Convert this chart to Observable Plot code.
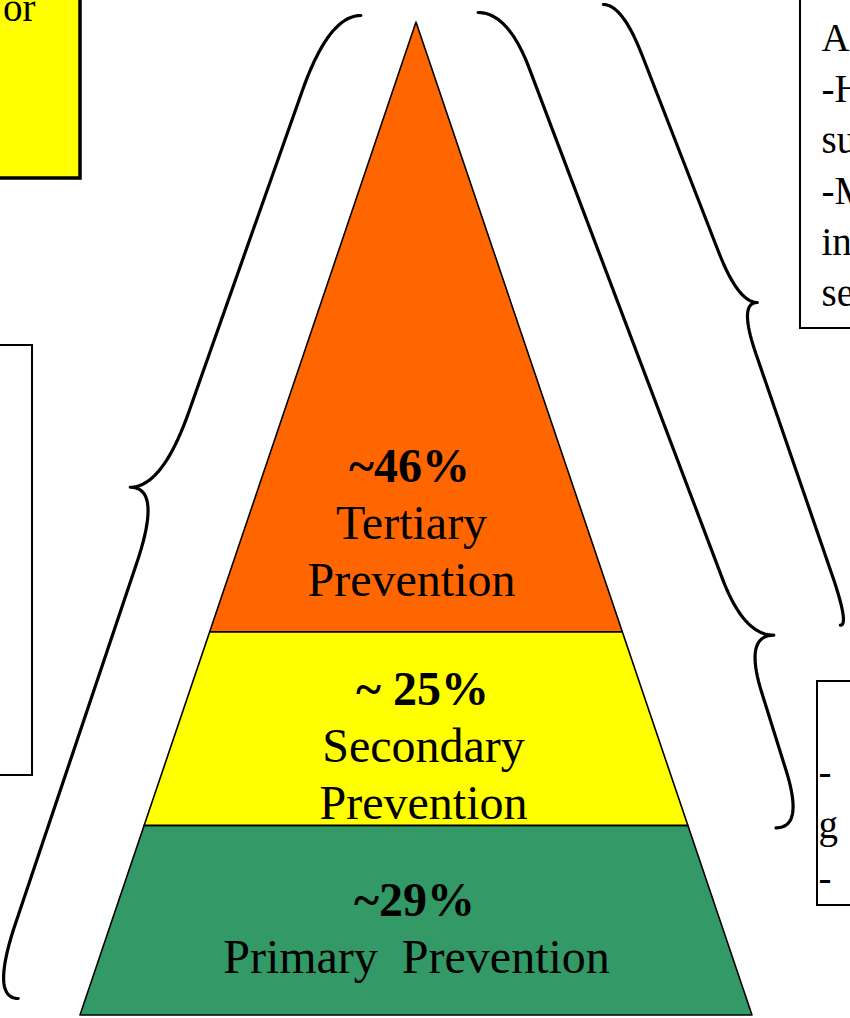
<!DOCTYPE html>
<html>
<head>
<meta charset="utf-8">
<script src="https://cdn.jsdelivr.net/npm/d3@7"></script>
<script src="https://cdn.jsdelivr.net/npm/@observablehq/plot@0.6"></script>
<style>
html, body { margin: 0; padding: 0; background: #fff; overflow: hidden; }
#chart svg { display: block; }
</style>
</head>
<body>
<div id="chart"></div>
<script>
// ---------------- data ----------------
const layerNames = ["Primary Prevention", "Secondary Prevention", "Tertiary Prevention"];
const shareValues = [29, 25, 46];
const shareLabels = ["~29%", "~ 25%", "~46%"];
const nameLabels = ["Primary  Prevention", "Secondary\nPrevention", "Tertiary\nPrevention"];
const layerTopLevels = [0.191, 0.386, 1.0];   // fraction of pyramid height at the top of each layer
const layerColors = ["#339966", "#FFFF00", "#FF6600"];
const topLeftBoxLines = ["or"];
const topRightBoxLines = ["A", "-H", "su", "-M", "in", "se"];
const bottomRightBoxLines = ["-", "g", "-"];

// ---------------- layout ----------------
const W = 850, H = 1018;
const CX = 416, BASE_Y = 1015, HALF_W = 336, TALL = 993;
const u = px => (px - CX) / HALF_W;        // pixel x -> data x
const v = py => (BASE_Y - py) / TALL;      // pixel y -> data level
const pxY = lv => BASE_Y - lv * TALL;
const FONT = "'Liberation Serif', 'Times New Roman', serif";

const layerBottomLevels = [0, ...layerTopLevels.slice(0, -1)];
const layers = layerNames.map((name, i) => ({
  name, share: shareValues[i], shareLabel: shareLabels[i], label: nameLabels[i],
  bottom: layerBottomLevels[i], top: layerTopLevels[i]
}));
const areaData = layers.flatMap(d =>
  [d.bottom, d.top].map(lv => ({name: d.name, lv, x1: -(1 - lv), x2: 1 - lv})));

// labels
const LINE = 57, LABEL_SIZE = 48;
const nameGap = [43, 7, 36];
const nameDx = [0, 7, -5];
const pctDx = [-2, 6, -7];
const labelData = layers.map((d, i) => {
  const base = pxY(d.bottom) - nameGap[i];
  const n = d.label.split("\n").length;
  return {...d, nameY: v(base), pctY: v(base - n * LINE), nx: nameDx[i] / HALF_W, px: pctDx[i] / HALF_W};
});

// braces (anchored to pyramid levels, offset outward from the pyramid edge)
function edgePx(side, py) { return CX + side * (1 - v(py)) * HALF_W; }
function anchor(side, lv, nudge, out) {
  const py = pxY(lv) + nudge;
  return [edgePx(side, py) + side * out, py];
}
function quad(a, c, b, n = 20) {
  const pts = [];
  for (let k = 0; k <= n; k++) {
    const t = k / n, s = 1 - t;
    pts.push([s * s * a[0] + 2 * s * t * c[0] + t * t * b[0], s * s * a[1] + 2 * s * t * c[1] + t * t * b[1]]);
  }
  return pts;
}
function along(a, b, d) {
  const dx = b[0] - a[0], dy = b[1] - a[1], L = Math.hypot(dx, dy);
  return [a[0] + dx / L * d, a[1] + dy / L * d];
}
function bracePts(P0, T, P1, side, r, rb, c) {
  const S0 = [P0[0] + side * r, P0[1]], S1 = [T[0] - side * r, T[1]];
  const S2 = [T[0] - side * r, T[1]], S3 = [P1[0] + side * rb, P1[1]];
  const A = along(S0, S1, c), B = along(S1, S0, c), C = along(S2, S3, c), D = along(S3, S2, c);
  return [...quad(P0, S0, A), ...quad(B, S1, T), ...quad(T, S2, C), ...quad(D, S3, P1)];
}
const braceSpecs = [
  {id: "all", side: -1, top: [layerTopLevels[2], -7, 58], tip: [0.532, 0, 129], bottom: [0, -17, 68], r: 32, rb: 28, c: 80},
  {id: "sec+ter", side: 1, top: [layerTopLevels[2], -10, 65], tip: [layerTopLevels[1], 3, 150], bottom: [layerTopLevels[0], 2, 87], r: 30, rb: 28, c: 60},
  {id: "ter", side: 1, top: [layerTopLevels[2], -18, 193], tip: [0.718, 0, 246], bottom: [layerTopLevels[1], -7, 220], r: 19, rb: 9, c: 55}
];
const braceData = braceSpecs.flatMap(b => {
  const P0 = anchor(b.side, ...b.top), T = anchor(b.side, ...b.tip), P1 = anchor(b.side, ...b.bottom);
  return bracePts(P0, T, P1, b.side, b.r, b.rb, b.c).map(([x, y]) => ({id: b.id, x: u(x), y: v(y)}));
});

// side boxes (cropped at the picture edge)
const box = (x1, x2, y1, y2) => ({x1: u(x1), x2: u(x2), y1: v(y1), y2: v(y2)});
const yellowBoxes = [box(-10, 80, -10, 178)];
const whiteBoxes = [box(-10, 32, 345, 775), box(800, 870, -10, 328), box(817, 870, 681, 905)];
const boxText = [
  ...topLeftBoxLines.map((t, i) => ({t, x: u(35), y: v(20 + i * 51), a: "end"})),
  ...topRightBoxLines.map((t, i) => ({t, x: u(821), y: v(50 + i * 51), a: "start"})),
  ...bottomRightBoxLines.map((t, i) => ({t, x: u(818), y: v(784 + i * 53), a: "start"}))
];

const chart = Plot.plot({
  width: W, height: H, margin: 0,
  x: {domain: [u(0), u(W)], axis: null},
  y: {domain: [v(H), v(0)], axis: null},
  color: {domain: layerNames, range: layerColors},
  style: {background: "white", fontFamily: FONT, overflow: "hidden"},
  marks: [
    Plot.rect(yellowBoxes, {x1: "x1", x2: "x2", y1: "y1", y2: "y2", fill: "#FFFF00", stroke: "black", strokeWidth: 3.5}),
    Plot.rect(whiteBoxes, {x1: "x1", x2: "x2", y1: "y1", y2: "y2", fill: "white", stroke: "black", strokeWidth: 2}),
    Plot.areaX(areaData, {y: "lv", x1: "x1", x2: "x2", z: "name", fill: "name", stroke: "black", strokeWidth: 1.6}),
    Plot.line(braceData, {x: "x", y: "y", z: "id", stroke: "black", strokeWidth: 3.2, curve: "linear", strokeLinecap: "round", strokeLinejoin: "round"}),
    Plot.text(labelData, {x: "px", y: "pctY", text: "shareLabel", fontSize: LABEL_SIZE, fontWeight: "bold", lineAnchor: "bottom", fill: "black", fontFamily: FONT}),
    Plot.text(labelData, {x: "nx", y: "nameY", text: "label", fontSize: LABEL_SIZE, lineAnchor: "bottom", lineHeight: LINE / LABEL_SIZE, fill: "black", fontFamily: FONT}),
    Plot.text(boxText, {x: "x", y: "y", text: "t", textAnchor: "start", fontSize: 39, lineAnchor: "bottom", fill: "black", fontFamily: FONT, filter: d => d.a === "start"}),
    Plot.text(boxText, {x: "x", y: "y", text: "t", textAnchor: "end", fontSize: 39, lineAnchor: "bottom", fill: "black", fontFamily: FONT, filter: d => d.a === "end"})
  ]
});
document.getElementById("chart").appendChild(chart);
</script>
</body>
</html>
